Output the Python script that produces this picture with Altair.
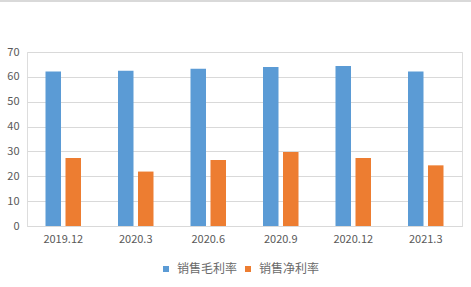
import altair as alt
import pandas as pd

categories = ["2019.12", "2020.3", "2020.6", "2020.9", "2020.12", "2021.3"]
gross_margin = [62.2, 62.5, 63.3, 64.0, 64.4, 62.2]
net_margin = [27.4, 21.9, 26.6, 29.8, 27.4, 24.4]
series_names = ["销售毛利率", "销售净利率"]
colors = ["#5B9BD5", "#ED7D31"]

rows = []
for i, c in enumerate(categories):
    rows.append({"period": c, "series": series_names[0], "value": gross_margin[i]})
    rows.append({"period": c, "series": series_names[1], "value": net_margin[i]})
df = pd.DataFrame(rows)

font = "Noto Sans CJK SC"

bars = alt.Chart(df).mark_bar().encode(
    x=alt.X("period:N", sort=categories, title=None,
            scale=alt.Scale(paddingInner=0, paddingOuter=0),
            axis=alt.Axis(labelAngle=0, ticks=False, domain=True, domainColor="#D9D9D9",
                          grid=False,
                          labelColor="#595959", labelFont=font, labelFontSize=11,
                          labelPadding=7)),
    xOffset=alt.XOffset("series:N", sort=series_names,
                        scale=alt.Scale(paddingInner=0.225, paddingOuter=0.925)),
    y=alt.Y("value:Q", title=None,
            scale=alt.Scale(domain=[0, 70], nice=False),
            axis=alt.Axis(values=[0, 10, 20, 30, 40, 50, 60, 70], ticks=False, domain=False,
                          gridColor="#D9D9D9", labelColor="#595959", labelFont=font,
                          labelFontSize=11, labelPadding=8)),
    color=alt.Color("series:N", sort=series_names,
                    scale=alt.Scale(domain=series_names, range=colors),
                    legend=alt.Legend(title=None, orient="none", direction="horizontal",
                                      legendX=133, legendY=211, symbolType="square",
                                      symbolSize=36, symbolStrokeWidth=0,
                                      labelFont=font, labelFontSize=12,
                                      labelColor="#6A6A6A", labelOffset=5,
                                      columnPadding=4)),
)

border = alt.Chart(pd.DataFrame({"a": [0]})).mark_rule(color="#D9D9D9", strokeWidth=2).encode(
    x=alt.value(-27), x2=alt.value(444), y=alt.value(-51)
)

chart = alt.layer(bars, border).properties(
    width=435, height=174,
    autosize=alt.AutoSizeParams(type="none"),
    padding={"left": 27, "top": 52, "right": 9, "bottom": 61},
).configure_view(
    stroke="transparent", strokeWidth=0
).configure_axisY(
    domain=False, ticks=False
).configure_axisX(
    grid=False
).configure(background="white")

chart.save("out.html", embed_options={"renderer": "svg", "actions": False})
